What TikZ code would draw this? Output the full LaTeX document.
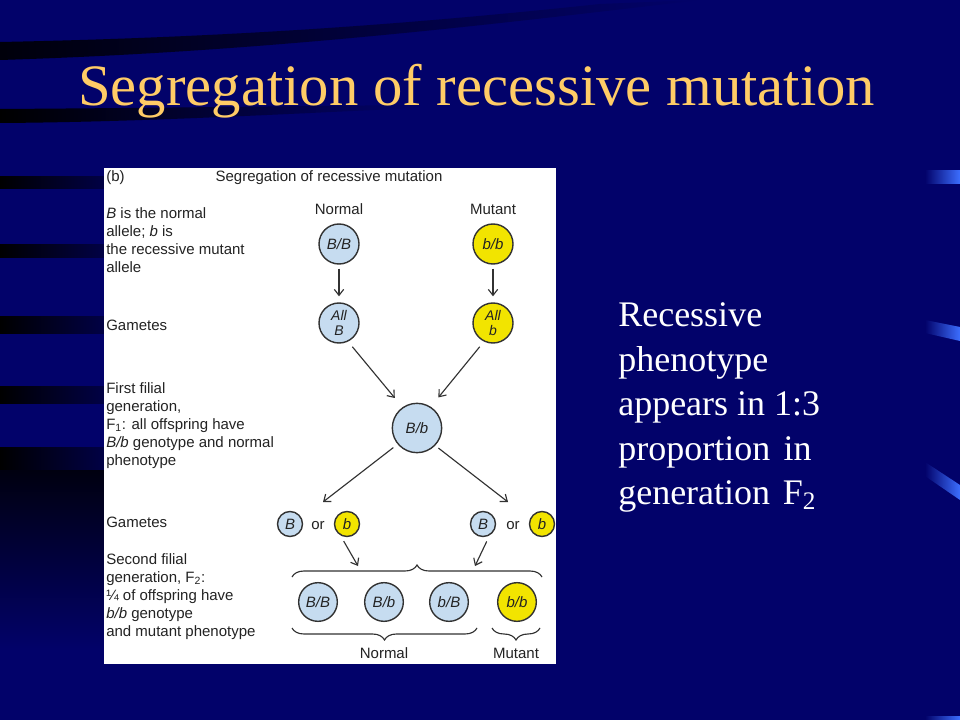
\documentclass[tikz,border=0pt]{standalone}
\usepackage{fontspec}
\setmainfont{Liberation Serif}
\newfontfamily\dsf{Liberation Sans}
\usetikzlibrary{arrows.meta,decorations.pathreplacing}
\definecolor{navy}{RGB}{2,2,106}
\definecolor{titlecol}{RGB}{255,204,102}
\definecolor{gblue}{RGB}{198,220,240}
\definecolor{gyel}{RGB}{242,228,0}
\definecolor{cline}{RGB}{50,50,50}
\definecolor{txt}{RGB}{35,35,35}
\definecolor{markblue}{RGB}{60,110,255}
\begin{document}
\begin{tikzpicture}[x=0.75pt,y=-0.75pt,
  lab/.style={font=\dsf\fontsize{11.25}{13.5}\selectfont, text=txt, inner sep=0pt, anchor=base west},
  hdr/.style={font=\dsf\fontsize{11.25}{13.5}\selectfont, text=txt, inner sep=0pt, anchor=base},
  gen/.style={circle, draw=cline, line width=1.05pt, inner sep=0pt, text=txt, align=center,
              font=\dsf\itshape\fontsize{11.25}{11.25}\selectfont},
  bigc/.style={gen, minimum size=30pt},
  hugec/.style={gen, minimum size=37pt},
  smallc/.style={gen, minimum size=18.75pt},
  f2c/.style={gen, minimum size=29pt},
  blue/.style={fill=gblue},
  yel/.style={fill=gyel},
  arr/.style={draw=cline, line width=0.85pt, -{Straight Barb[length=4.5pt,width=7pt]}},
  brc/.style={draw=cline, line width=0.85pt, decorate, decoration={brace, amplitude=9pt}},
  ttl/.style={font=\fontsize{44}{50}\selectfont, text=titlecol, inner sep=0pt, anchor=base west},
  rt/.style={font=\fontsize{27}{33}\selectfont, text=white, inner sep=0pt, anchor=base west},
  stripe/.style={left color=black, right color=navy, draw=none}
]
\useasboundingbox (0,0) rectangle (960,720);
% background
\fill[navy] (0,0) rectangle (960,720);
\shade[left color=black!90!navy, right color=navy] (0,42) .. controls (250,37) and (430,22) .. (600,4) -- (700,0)
   .. controls (480,26) and (260,52) .. (0,60) -- cycle;
\shade[stripe] (0,109) .. controls (150,108) and (300,106) .. (420,105) -- (420,108)
   .. controls (300,113) and (150,122) .. (0,123) -- cycle;
\shade[stripe] (0,177) rectangle (160,189);
\shade[stripe] (0,245) rectangle (160,258);
\shade[stripe] (0,316) rectangle (160,333);
\shade[stripe] (0,386) rectangle (160,403);
\shade[stripe] (0,447) rectangle (160,470);
\shade[top color=black!85!navy, bottom color=navy] (0,470) rectangle (104,650);
% right marks
\shade[left color=navy, right color=markblue] (925,171) rectangle (960,184);
\shade[left color=navy, right color=markblue] (925,320) -- (960,327) -- (960,341) -- (925,333) -- cycle;
\shade[left color=navy, right color=markblue] (925,462) -- (960,485) -- (960,500) -- (925,476) -- cycle;
\shade[left color=navy, right color=markblue] (925,716) rectangle (960,720);
% title
\node[ttl] (title) at (78,106) {Segregation of recessive mutation};
% right text
\node[rt] (r1) at (618,326) {Recessive};
\node[rt] (r2) at (618,371) {phenotype};
\node[rt] (r3) at (618,415) {appears in 1:3};
\node[rt] (r4) at (618,460) {proportion\hspace{0.12em} in};
\node[rt] (r5) at (618,504) {generation\hspace{0.1em} F\textsubscript{2}};
% panel
\fill[white] (104,168) rectangle (556,664);
\node[lab] (pb) at (106,182) {(b)};
\node[hdr] (head) at (329,182) {Segregation of recessive mutation};
% left labels
\node[lab] (a1) at (106,219) {\textit{B} is the normal};
\node[lab] (a2) at (106,237) {allele; \textit{b} is};
\node[lab] (a3) at (106,255) {the recessive mutant};
\node[lab] (a4) at (106,273) {allele};
\node[lab] (gm1) at (106,330) {Gametes};
\node[lab] (f1) at (106,393) {First filial};
\node[lab] (f2) at (106,411) {generation,};
\node[lab] (f3) at (106,429) {F\textsubscript{1}: all offspring have};
\node[lab] (f4) at (106,447) {\textit{B/b} genotype and normal};
\node[lab] (f5) at (106,465) {phenotype};
\node[lab] (gm2) at (106,527) {Gametes};
\node[lab] (s1) at (106,564) {Second filial};
\node[lab] (s2) at (106,582) {generation, F\textsubscript{2}:};
\node[lab] (s3) at (106,600) {¼ of offspring have};
\node[lab] (s4) at (106,618) {\textit{b/b} genotype};
\node[lab] (s5) at (106,636) {and mutant phenotype};
% parents
\node[hdr] (nl) at (339,215) {Normal};
\node[hdr] (ml) at (493,215) {Mutant};
\node[bigc, blue] (BB) at (339,244) {B/B};
\node[bigc, yel] (bb) at (493,244) {b/b};
\node[bigc, blue, font=\dsf\itshape\fontsize{10.5}{11.25}\selectfont] (AllB) at (339,323) {All\\B};
\node[bigc, yel, font=\dsf\itshape\fontsize{10.5}{11.25}\selectfont] (Allb) at (493,323) {All\\b};
\node[hugec, blue] (Bb) at (417,428) {B/b};
% gametes
\node[smallc, blue] (B1) at (290,524) {B};
\node[hdr] (or1) at (318,529) {or};
\node[smallc, yel] (b1) at (347,524) {b};
\node[smallc, blue] (B2) at (483,524) {B};
\node[hdr] (or2) at (513,529) {or};
\node[smallc, yel] (b2) at (542,524) {b};
% F2
\node[f2c, blue] (c1) at (318,602) {B/B};
\node[f2c, blue] (c2) at (384,602) {B/b};
\node[f2c, blue] (c3) at (449,602) {b/B};
\node[f2c, yel] (c4) at (517,602) {b/b};
\node[hdr] (nlab) at (384,658) {Normal};
\node[hdr] (mlab) at (516,658) {Mutant};
% free arrow ends
\coordinate (g1) at (323,502);
\coordinate (g2) at (508,502);
\coordinate (t1) at (358,566);
\coordinate (t2) at (475,566);
% arrows
\draw[arr, shorten <=3pt, shorten >=4.5pt] (BB) -- (AllB);
\draw[arr, shorten <=3pt, shorten >=4.5pt] (bb) -- (Allb);
\draw[arr, shorten <=5pt, shorten >=9pt] (AllB.-64) -- (Bb.125);
\draw[arr, shorten <=5pt, shorten >=9pt] (Allb.-116) -- (Bb.57);
\draw[arr, shorten <=4pt] (Bb.-140) -- (g1);
\draw[arr, shorten <=3pt] (Bb.-44) -- (g2);
\draw[arr, shorten <=5pt] (b1.-120) -- (t1);
\draw[arr, shorten <=5pt] (B2.-60) -- (t2);
% braces
\draw[brc] (292,577) -- (542,577);
\draw[brc] (477,628) -- (292,628);
\draw[brc] (540,628) -- (492,628);
\end{tikzpicture}
\end{document}
